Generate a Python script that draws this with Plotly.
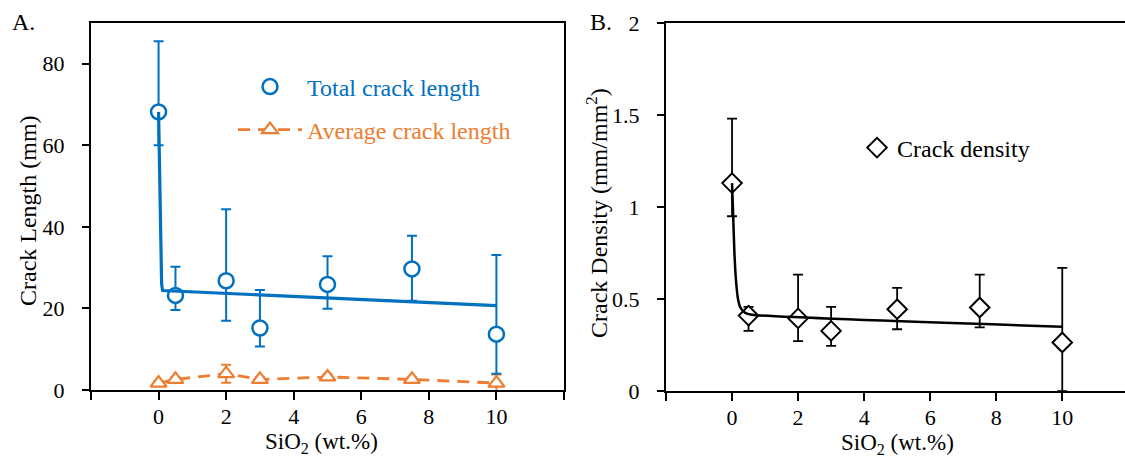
import plotly.graph_objects as go

# SiO2 content (wt.%) of the samples
sio2 = [0, 0.5, 2, 3, 5, 7.5, 10]

# Panel A: crack length (mm)
total_len = [68.2, 23.2, 26.8, 15.2, 25.9, 29.7, 13.7]
total_plus = [17.3, 7.0, 17.5, 9.3, 6.9, 8.1, 19.4]
total_minus = [8.2, 3.6, 9.8, 4.5, 6.0, 7.8, 9.7]

avg_len = [1.7, 2.6, 4.0, 2.6, 3.2, 2.6, 1.7]
avg_err = [0.5, 0.6, 2.2, 0.5, 0.6, 0.5, 2.1]

# fitted trend for total crack length
total_fit_x = [0, 0.03, 0.06, 0.09, 0.12, 10]
total_fit_y = [68.2, 50, 34, 26, 24.4, 20.7]

# Panel B: crack density (mm/mm2)
density = [1.13, 0.41, 0.395, 0.327, 0.445, 0.454, 0.264]
density_plus = [0.35, 0.047, 0.238, 0.13, 0.116, 0.179, 0.405]
density_minus = [0.18, 0.083, 0.124, 0.081, 0.109, 0.108, 0.264]

# fitted trend for crack density
density_fit_x = [0, 0.03, 0.07, 0.12, 0.18, 0.25, 0.4, 0.6, 10]
density_fit_y = [1.13, 0.98, 0.76, 0.6, 0.5, 0.455, 0.425, 0.415, 0.35]

# labelled x ticks, plus unlabelled tick marks at the axis ends
x_ticks = [0, 2, 4, 6, 8, 10]
x_end_ticks = [-2, 12]
y_ticks_a = [0, 20, 40, 60, 80]
y_ticks_b = [0, 0.5, 1, 1.5, 2]
y_ticktext_b = ["0", "0.5", "1", "1.5", "2"]

BLUE = "#0070C0"
ORANGE = "#ED7D31"
FONT = "Times New Roman, Liberation Serif, serif"
FS = 24
TICK_FS = 22
XTITLE_FS = 23

fig = go.Figure()

# --- Panel A ---
fig.add_trace(go.Scatter(
    x=sio2, y=avg_len, mode="lines+markers", xaxis="x", yaxis="y",
    name=f"<span style='color:{ORANGE}'>Average crack length</span>",
    legend="legend2",
    line=dict(color=ORANGE, width=2.8, dash="12px,8px"),
    marker=dict(symbol="triangle-up", size=14, color="white",
                line=dict(color=ORANGE, width=2.2)),
    error_y=dict(type="data", array=avg_err, color=ORANGE, thickness=2, width=5),
))
fig.add_trace(go.Scatter(
    x=sio2, y=total_len, mode="markers", xaxis="x", yaxis="y",
    name=f"<span style='color:{BLUE}'>Total crack length</span>",
    legend="legend",
    marker=dict(symbol="circle", size=15, color="white",
                line=dict(color=BLUE, width=2.5)),
    error_y=dict(type="data", symmetric=False, array=total_plus,
                 arrayminus=total_minus, color=BLUE, thickness=2, width=5),
))
fig.add_trace(go.Scatter(
    x=total_fit_x, y=total_fit_y, mode="lines", xaxis="x", yaxis="y",
    showlegend=False, line=dict(color=BLUE, width=3.2),
))

# --- Panel B ---
fig.add_trace(go.Scatter(
    x=sio2, y=density, mode="markers", xaxis="x2", yaxis="y2",
    name="Crack density", legend="legend3",
    marker=dict(symbol="diamond", size=15, color="white",
                line=dict(color="black", width=2)),
    error_y=dict(type="data", symmetric=False, array=density_plus,
                 arrayminus=density_minus, color="black", thickness=1.8, width=5),
))
fig.add_trace(go.Scatter(
    x=density_fit_x, y=density_fit_y, mode="lines", xaxis="x2", yaxis="y2",
    showlegend=False, line=dict(color="black", width=2.5, shape="spline", smoothing=0.6),
))

axis_common = dict(
    showline=True, linecolor="black", linewidth=2, mirror=True,
    showgrid=False, zeroline=False, ticks="outside", tickcolor="black",
    tickwidth=2, automargin=False,
    tickfont=dict(family=FONT, size=TICK_FS, color="black"),
)
x_end_marks = dict(tickmode="array", tickvals=x_end_ticks, ticks="outside",
                   ticklen=8, tickwidth=2, tickcolor="black", showgrid=False)

legend_common = dict(xanchor="left", yanchor="middle", bgcolor="rgba(0,0,0,0)",
                     font=dict(family=FONT, size=FS))

fig.update_layout(
    width=1125, height=459,
    margin=dict(l=0, r=0, t=0, b=0, autoexpand=False),
    paper_bgcolor="white", plot_bgcolor="white",
    font=dict(family=FONT, size=FS, color="black"),
    xaxis=dict(domain=[0.0809, 0.5013], range=[-2, 12], tickmode="array",
               tickvals=x_ticks, ticklen=8, ticklabelstandoff=-2,
               minor=x_end_marks, anchor="y", **axis_common),
    yaxis=dict(domain=[0.1503, 0.9499], range=[0, 90], tickmode="array",
               tickvals=y_ticks_a, ticklen=7, ticklabelstandoff=13,
               anchor="x", **axis_common),
    xaxis2=dict(domain=[0.592, 1.0], range=[-2, 11.9], tickmode="array",
                tickvals=x_ticks, ticklen=8, ticklabelstandoff=-2,
                minor=x_end_marks, anchor="y2", **axis_common),
    yaxis2=dict(domain=[0.148, 0.9499], range=[0, 2], tickmode="array",
                tickvals=y_ticks_b, ticktext=y_ticktext_b,
                ticklen=7, ticklabelstandoff=13, anchor="x2", **axis_common),
    legend=dict(x=233 / 1125, y=1 - 87 / 459, itemwidth=64, **legend_common),
    legend2=dict(x=233 / 1125, y=1 - 130 / 459, itemwidth=64, **legend_common),
    legend3=dict(x=857 / 1125, y=1 - 148 / 459, itemwidth=30, **legend_common),
    annotations=[
        dict(text="A.", x=10 / 1125, y=1 - 22 / 459, xref="paper", yref="paper",
             xanchor="left", yanchor="middle", showarrow=False),
        dict(text="B.", x=588 / 1125, y=1 - 22 / 459, xref="paper", yref="paper",
             xanchor="left", yanchor="middle", showarrow=False),
        dict(text="Crack Length (mm)", textangle=-90, x=28 / 1125, y=1 - 211 / 459,
             xref="paper", yref="paper", xanchor="center", yanchor="middle",
             showarrow=False),
        dict(text="Crack Density (mm/mm<sup>2</sup>)", textangle=-90, x=597 / 1125,
             y=1 - 213 / 459, xref="paper", yref="paper", xanchor="center",
             yanchor="middle", showarrow=False),
        dict(text="SiO<sub>2</sub> (wt.%)", x=321 / 1125, y=1 - 443 / 459,
             xref="paper", yref="paper", xanchor="center", yanchor="middle",
             showarrow=False, font=dict(size=XTITLE_FS)),
        dict(text="SiO<sub>2</sub> (wt.%)", x=897 / 1125, y=1 - 444 / 459,
             xref="paper", yref="paper", xanchor="center", yanchor="middle",
             showarrow=False, font=dict(size=XTITLE_FS)),
    ],
)

fig.write_html("out.html")
